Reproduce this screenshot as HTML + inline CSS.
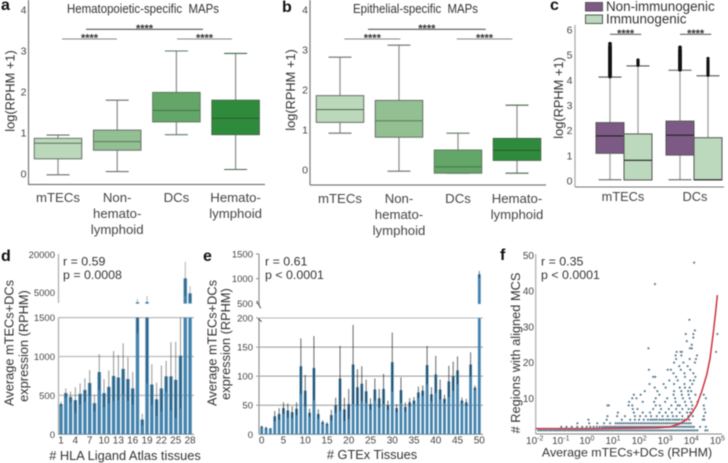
<!DOCTYPE html>
<html lang="en">
<head>
<meta charset="utf-8">
<title>MAP expression figure</title>
<style>
html,body{margin:0;padding:0;background:#fff;}
svg{display:block;filter:blur(0.4px);}
text{font-family:"Liberation Sans",sans-serif;fill:#333;}
.letter{font-size:16px;font-weight:bold;fill:#111;}
.title{font-size:12.8px;}
.stat{font-size:12.4px;}
.star{font-size:11px;font-weight:bold;text-anchor:middle;}
</style>
</head>
<body>
<svg id="fig" xmlns="http://www.w3.org/2000/svg" width="728" height="463" viewBox="0 0 728 463">
  <text class="letter" x="1" y="10">a</text>
  <text class="letter" x="282" y="12">b</text>
  <text class="letter" x="550" y="10">c</text>
  <text class="letter" x="1" y="261">d</text>
  <text class="letter" x="203" y="261">e</text>
  <text class="letter" x="500" y="260">f</text>

  <text x="67" y="13" font-size="12.5" textLength="152" lengthAdjust="spacingAndGlyphs" style="white-space:pre">Hematopoietic-specific  MAPs</text>
  <text x="353" y="13" font-size="12.5" textLength="125" lengthAdjust="spacingAndGlyphs" style="white-space:pre">Epithelial-specific  MAPs</text>

  <text class="title" transform="translate(14.5,91) rotate(-90)" text-anchor="middle">log(RPHM +1)</text>
  <text class="title" transform="translate(295,90) rotate(-90)" text-anchor="middle">log(RPHM +1)</text>
  <text class="title" transform="translate(563,98) rotate(-90)" text-anchor="middle">log(RPHM +1)</text>

  <text class="title" transform="translate(13.5,343) rotate(-90)" text-anchor="middle">Average mTECs+DCs</text>
  <text class="title" transform="translate(28,346) rotate(-90)" text-anchor="middle">expression (RPHM)</text>
  <text class="title" transform="translate(216.5,343) rotate(-90)" text-anchor="middle">Average mTECs+DCs</text>
  <text class="title" transform="translate(230,344) rotate(-90)" text-anchor="middle">expression (RPHM)</text>
  <text class="title" transform="translate(520,353) rotate(-90)" text-anchor="middle"># Regions with aligned MCS</text>

  <text class="title" x="125" y="460" text-anchor="middle"># HLA Ligand Atlas tissues</text>
  <text class="title" x="372" y="459" text-anchor="middle"># GTEx Tissues</text>
  <text class="title" x="627" y="456.5" text-anchor="middle" font-size="12.4" style="font-size:12.4px">Average mTECs+DCs (RPHM)</text>

  <text class="stat" x="63" y="265.5">r = 0.59</text>
  <text class="stat" x="63" y="279">p = 0.0008</text>
  <text class="stat" x="265" y="265.5">r = 0.61</text>
  <text class="stat" x="265" y="279">p &lt; 0.0001</text>
  <text class="stat" x="541" y="265.5">r = 0.35</text>
  <text class="stat" x="541" y="279">p &lt; 0.0001</text>

  <rect x="585.5" y="2.5" width="17" height="8.5" fill="#7c5a85" stroke="#555"/>
  <rect x="585.5" y="15" width="17" height="8.5" fill="#bcd8bd" stroke="#555"/>
  <text x="606" y="11" font-size="13.4">Non-immunogenic</text>
  <text x="606" y="23.5" font-size="13.4">Immunogenic</text>
</svg>
<script>
// ---------- panel a ----------
const aCategories = [['mTECs'], ['Non-', 'hemato-', 'lymphoid'], ['DCs'], ['Hemato-', 'lymphoid']];
const aLow = [-0.02, 0.06, 0.96, 0.11];
const aQ1 = [0.37, 0.58, 1.27, 0.96];
const aMedian = [0.75, 0.79, 1.55, 1.36];
const aQ3 = [0.87, 1.07, 1.99, 1.80];
const aHigh = [0.95, 1.80, 3.00, 2.94];
const aTicks = [0, 1, 2, 3, 4];

// ---------- panel b ----------
const bCategories = [['mTECs'], ['Non-', 'hemato-', 'lymphoid'], ['DCs'], ['Hemato-', 'lymphoid']];
const bLow = [0.92, -0.03, -0.08, -0.08];
const bQ1 = [1.19, 0.82, -0.08, 0.24];
const bMedian = [1.51, 1.23, 0.08, 0.49];
const bQ3 = [1.86, 1.74, 0.50, 0.79];
const bHigh = [2.82, 3.12, 0.92, 1.62];
const bTicks = [0, 1, 2, 3, 4];

// ---------- panel c ----------
const cCategories = ['mTECs', 'DCs'];
const cLow = [0.05, 0.05, 0.05, 0.05];
const cQ1 = [1.10, 0.04, 1.03, 0.04];
const cMedian = [1.79, 0.82, 1.82, 0.05];
const cQ3 = [2.32, 1.87, 2.38, 1.72];
const cHigh = [4.13, 4.57, 4.40, 4.18];
const cOutliers = [
  [4.15, 4.2, 4.25, 4.3, 4.35, 4.4, 4.45, 4.5, 4.55, 4.6, 4.65, 4.7, 4.75, 4.8, 4.85, 4.9, 4.95, 5.0, 5.05, 5.1, 5.15, 5.2, 5.25, 5.3, 5.35, 5.45],
  [4.6, 4.65, 4.7, 4.74, 4.78, 4.81],
  [4.42, 4.47, 4.52, 4.57, 4.62, 4.67, 4.72, 4.77, 4.82, 4.87, 4.92, 4.97, 5.02, 5.07, 5.12, 5.17, 5.22, 5.31],
  [4.2, 4.25, 4.3, 4.36, 4.42, 4.48, 4.54, 4.6, 4.66, 4.72, 4.78, 4.87]
];
const cTicks = [0, 1, 2, 3, 4, 5, 6];

// ---------- panel d ----------
const dValues = [390, 530, 480, 440, 520, 570, 660, 400, 800, 530, 610, 750, 730, 840, 710, 590, 1920, 190, 2000, 640, 450, 590, 745, 745, 700, 1010, 10620, 4800];
const dErrHigh = [420, 590, 550, 605, 655, 720, 825, 505, 1030, 710, 820, 1070, 1020, 1170, 990, 800, 2980, 265, 3940, 900, 665, 885, 945, 1185, 1190, 1500, 17100, 7560];
const dErrLow = [360, 470, 410, 275, 385, 420, 495, 295, 570, 350, 400, 430, 440, 510, 430, 380, 1300, 115, 655, 380, 235, 295, 545, 305, 210, 330, 4000, 2000];
const dLowerTicks = [0, 500, 1000, 1500];
const dUpperTicks = [5000, 20000];
const dXTicks = [1, 4, 7, 10, 13, 16, 19, 22, 25, 28];

// ---------- panel e ----------
const eValues = [13, 11, 10, 31, 35, 45, 41, 38, 44, 117, 75, 37, 114, 35, 21, 18, 33, 50, 96, 43, 52, 120, 81, 87, 74, 52, 77, 62, 78, 50, 124, 45, 76, 47, 55, 58, 72, 75, 119, 69, 103, 77, 61, 91, 100, 110, 58, 55, 120, 80, 1088];
const eErrHigh = [15, 13, 11, 40, 45, 55, 53, 48, 55, 165, 102, 44, 169, 43, 24, 21, 42, 63, 152, 63, 78, 188, 112, 117, 94, 62, 96, 78, 104, 58, 175, 52, 98, 55, 62, 64, 82, 84, 152, 81, 135, 94, 68, 118, 125, 134, 63, 61, 141, 84, 1155];
const eErrLow = [11, 9, 9, 22, 25, 35, 29, 28, 33, 69, 48, 30, 59, 27, 18, 15, 24, 37, 40, 23, 26, 52, 50, 57, 54, 42, 58, 46, 52, 42, 73, 38, 54, 39, 48, 52, 62, 66, 86, 57, 71, 60, 54, 64, 75, 86, 53, 49, 99, 76, 1020];
const eLowerTicks = [0, 50, 100, 150, 200];
const eUpperTicks = [500, 1000, 1500];
const eXTicks = [0, 5, 10, 15, 20, 25, 30, 35, 40, 45, 50];

// ---------- panel f ----------
const fXTickExponents = [-2, -1, 0, 1, 2, 3, 4, 5];
const fYTicks = [10, 20, 30, 40, 50];
const fRegionCounts = [1, 2, 3, 4, 5, 6, 7, 8, 9, 10, 11, 12, 13, 14, 15, 16, 17, 18, 19, 20, 21, 22, 23, 24, 25, 26, 27, 28, 29, 32, 42, 48];
const fLogExpressionByCount = [
  [-1.9, -1.83, -1.77, -1.69, -1.62, -1.55, -1.47, -1.41, -1.33, -1.26, -1.19, -1.12, -1.05, -0.97, -0.9, -0.84, -0.76, -0.69, -0.62, -0.55, -0.48, -0.41, -0.34, -0.27, -0.2, -0.13, -0.06, 0.01, 0.08, 0.15, 0.22, 0.29, 0.36, 0.43, 0.5, 0.57, 0.64, 0.71, 0.78, 0.85, 0.92, 0.99, 1.06, 1.13, 1.2, 1.27, 1.34, 1.41, 1.48, 1.55, 1.62, 1.69, 1.76, 1.83, 1.9, 1.97, 2.04, 2.11, 2.18, 2.25, 2.32, 2.39, 2.46, 2.53, 2.6, 2.67, 2.74, 2.81, 2.88, 2.95, 3.02, 3.09, 3.16, 3.23, 3.3, 3.37, 3.44, 3.51, 3.58, 3.65, 3.72, 3.79, 3.86, 3.93, 4.0, 4.07, 4.14, 4.2, 4.5, 4.58],
  [-1.02, -0.82, -0.62, -0.41, -0.22, -0.05, 0.09, 0.22, 0.34, 0.45, 0.55, 0.63, 0.7, 0.77, 0.84, 0.91, 0.98, 1.05, 1.12, 1.19, 1.26, 1.33, 1.4, 1.47, 1.54, 1.61, 1.68, 1.75, 1.82, 1.89, 1.96, 2.03, 2.1, 2.17, 2.24, 2.31, 2.38, 2.45, 2.52, 2.59, 2.66, 2.73, 2.8, 2.87, 2.94, 3.01, 3.08, 3.15, 3.22, 3.29, 3.36, 3.43, 3.5, 3.57, 3.64, 3.71, 3.78, 3.85, 3.92, 3.99, 4.06, 4.3, 4.52],
  [-0.4, 0.05, 0.36, 0.62, 0.85, 1.06, 1.14, 1.22, 1.3, 1.38, 1.46, 1.54, 1.62, 1.7, 1.78, 1.86, 1.94, 2.02, 2.1, 2.18, 2.26, 2.34, 2.42, 2.5, 2.58, 2.66, 2.74, 2.82, 2.9, 2.98, 3.06, 3.14, 3.22, 3.3, 3.38, 3.46, 3.54, 3.62, 3.7, 3.78, 3.86, 3.94],
  [0.02, 0.72, 1.3, 1.62, 1.8, 1.96, 2.14, 2.3, 2.4, 2.48, 2.56, 2.64, 2.74, 2.82, 2.9, 3.0, 3.08, 3.16, 3.26, 3.34, 3.42, 3.5, 3.6, 3.7, 3.78, 3.88, 4.4, 4.46],
  [0.75, 1.12, 1.42, 1.8, 2.0, 2.22, 2.42, 2.64, 2.86, 3.06, 3.26, 3.4, 3.62, 3.85, 4.02, 4.44],
  [1.15, 1.76, 2.1, 2.38, 2.74, 2.98, 3.22, 3.52, 3.8, 3.92, 4.5],
  [1.72, 1.9, 2.5, 2.8, 3.1, 3.38, 3.62, 3.86, 3.98, 4.46],
  [0.75, 0.8, 1.56, 1.7, 2.6, 2.76, 3.2, 3.44, 3.52, 3.76, 4.0, 4.44],
  [1.58, 2.1, 2.54, 2.96, 3.36, 3.72, 3.96, 4.2],
  [1.7, 1.86, 2.6, 3.04, 3.34, 3.64, 3.9, 4.52],
  [1.76, 2.02, 2.74, 3.28, 3.6, 3.86, 4.12, 4.44],
  [2.18, 2.66, 3.3, 3.58, 3.84, 3.96],
  [2.56, 2.98, 3.52, 3.72, 3.9],
  [2.36, 2.9, 3.3, 3.7, 4.0],
  [3.12, 3.44, 3.92, 4.06],
  [2.5, 2.58, 3.38, 3.72, 4.12],
  [3.28, 3.7, 4.04],
  [2.34, 3.06, 3.18, 3.56, 3.92],
  [3.5, 3.82],
  [3.3, 3.66, 4.1],
  [3.38, 3.9, 4.14],
  [3.36, 3.58, 4.18],
  [3.4, 3.55, 3.6, 4.91],
  [2.32, 3.91, 3.98],
  [3.98],
  [3.79],
  [4.04],
  [3.75, 4.04, 4.96],
  [4.1],
  [3.89],
  [2.57],
  [4.07]
];
const fTrendLogX = [-2, 0.08, 2.64, 3.15, 3.53, 3.79, 3.98, 4.17, 4.36, 4.55, 4.68, 4.81, 4.91, 4.96];
const fTrendY = [1.5, 1.5, 1.7, 2, 2.9, 4.1, 5.8, 8.1, 11.9, 16.5, 21.2, 28.7, 35.2, 38.9];

// ---------- helpers ----------
const NS = 'http://www.w3.org/2000/svg';
const fig = document.getElementById('fig');
function mk(tag, attrs, txt) {
  const el = document.createElementNS(NS, tag);
  for (const k in attrs) el.setAttribute(k, attrs[k]);
  if (txt !== undefined) el.textContent = txt;
  fig.appendChild(el);
  return el;
}
function line(name, x1, y1, x2, y2, stroke, w) {
  const el = mk('line', {x1: x1, y1: y1, x2: x2, y2: y2, stroke: stroke, 'stroke-width': w});
  
  
  return el;
}
function label(name, x, y, txt, size, anchor) {
  const el = mk('text', {x: x, y: y, 'font-size': size, 'text-anchor': anchor}, txt);
  
  
  el.style.fill = '#444';
  return el;
}
function bar(name, x, y, w, h, fill) {
  const el = mk('rect', {x: x, y: y, width: w, height: h, fill: fill});
  
  
  return el;
}
function box(name, cx, w, yS, low, q1, med, q3, high, fill, edge, medColor, whisk) {
  line(name + '-whisker', cx, yS(high), cx, yS(low), whisk, 1.2);
  line(name + '-cap-high', cx - 11.5, yS(high), cx + 11.5, yS(high), edge, 1.1);
  line(name + '-cap-low', cx - 11.5, yS(low), cx + 11.5, yS(low), edge, 1.1);
  const r = mk('rect', {x: cx - w / 2, y: yS(q3), width: w, height: yS(q1) - yS(q3), fill: fill, stroke: edge, 'stroke-width': 1});
  
  
  line(name + '-median', cx - w / 2, yS(med), cx + w / 2, yS(med), medColor, 1.1);
}
function stars(name, x1, x2, y, color) {
  line(name + '-bracket', x1, y, x2, y, color, 1.1);
  const t = mk('text', {x: (x1 + x2) / 2, y: y + 2.5, class: 'star'}, '****');
  
  
}
const greens = ['#bcd8bb', '#92c092', '#64a667', '#2f8b3c'];
const boxEdges = ['#667066', '#667066', '#5f7a62', '#44664a'];
const boxMedians = ['#56705a', '#5f7f62', '#467a4c', '#2a5c32'];

// ---------- draw panel a ----------
const yA = v => 174 - 41 * v;
const xA = i => 58 + 59.2 * i;
line('panel-a-y-axis', 28.5, 0, 28.5, 184.5, '#777', 1.2);
line('panel-a-x-axis', 28, 184.5, 265, 184.5, '#777', 1.2);
aTicks.forEach(t => { label('panel-a-y-tick', 26.5, yA(t) + 3.5, String(t), 10.5, 'end'); });
aCategories.forEach((c, i) => {
  box('panel-a-' + c[0].toLowerCase().replace('-', ''), xA(i), 47.5, yA, aLow[i], aQ1[i], aMedian[i], aQ3[i], aHigh[i], greens[i], boxEdges[i], boxMedians[i], '#8a8a8a');
  c.forEach((s, j) => { label('panel-a-category-label', xA(i), 202 + j * 16, s, 13.2, 'middle'); });
});
stars('panel-a-sig-1', 62, 117, 39, '#888');
stars('panel-a-sig-2', 86, 203, 29.3, '#555');
stars('panel-a-sig-3', 177, 232, 39, '#888');

// ---------- draw panel b ----------
const yB = v => 170 - 40 * v;
const xB = i => 340 + 59 * i;
line('panel-b-y-axis', 310, 0, 310, 185, '#777', 1.2);
line('panel-b-x-axis', 310, 185, 546, 185, '#777', 1.2);
bTicks.forEach(t => { label('panel-b-y-tick', 308, yB(t) + 3.5, String(t), 10.5, 'end'); });
bCategories.forEach((c, i) => {
  box('panel-b-' + c[0].toLowerCase().replace('-', ''), xB(i), 47.5, yB, bLow[i], bQ1[i], bMedian[i], bQ3[i], bHigh[i], greens[i], boxEdges[i], boxMedians[i], '#8a8a8a');
  c.forEach((s, j) => { label('panel-b-category-label', xB(i), 203 + j * 16, s, 13.2, 'middle'); });
});
stars('panel-b-sig-1', 344.3, 400.3, 39, '#888');
stars('panel-b-sig-2', 368, 485.7, 29.3, '#555');
stars('panel-b-sig-3', 456.7, 512.3, 39, '#888');

// ---------- draw panel c ----------
const yC = v => 181 - 25.17 * v;
const xC = i => [610, 638, 680, 708][i];
const cFill = ['#7c5a85', '#bcd8bd', '#7c5a85', '#bcd8bd'];
const cOutlierRadius = [1.9, 1.6, 1.9, 1.6];
line('panel-c-y-axis', 575, 25, 575, 187, '#aaa', 1.3);
line('panel-c-x-axis', 575, 187, 724, 187, '#777', 1.1);
cTicks.forEach(t => { label('panel-c-y-tick', 572.5, yC(t) + 3.5, String(t), 10.5, 'end'); });
cLow.forEach((_, i) => {
  box('panel-c-group-' + i, xC(i), 28, yC, cLow[i], cQ1[i], cMedian[i], cQ3[i], cHigh[i], cFill[i], '#555', '#222', '#999');
  cOutliers[i].forEach(v => {
    const d = mk('circle', {cx: xC(i), cy: yC(v), r: cOutlierRadius[i], fill: '#111'});
    
    
  });
});
cCategories.forEach((c, i) => { label('panel-c-category-label', [623, 695][i], 201, c, 12.8, 'middle'); });
stars('panel-c-sig-1', 610, 641.3, 34.3, '#666');
stars('panel-c-sig-2', 680, 711.3, 34.3, '#666');

// ---------- draw panel d ----------
const yDLow = v => 434.3 - 0.0778 * v;
const yDUp = v => v < 5000 ? 303.6 - (v - 1500) * 10.9 / 3500 : 292.7 - (v - 5000) * 38.4 / 15000;
const xD = n => 61 + 4.78 * (n - 1);
const barBlue = '#4383ad';
line('panel-d-upper-y-axis', 58.5, 254, 58.5, 303, '#aaa', 1.2);
line('panel-d-lower-y-axis', 58.5, 317.7, 58.5, 434.3, '#aaa', 1.2);
line('panel-d-x-axis', 58, 434.3, 194, 434.3, '#888', 1);
dLowerTicks.forEach(t => {
  label('panel-d-y-tick', 55, yDLow(t) + 3.5, String(t), 9.5, 'end');
  if (t > 0) line('panel-d-gridline', 58, yDLow(t), 194, yDLow(t), '#b8b8b8', 1.2);
});
dUpperTicks.forEach(t => { label('panel-d-y-tick', 55, yDUp(t) + 3.5, String(t), 9.5, 'end'); });
dValues.forEach((v, i) => {
  const x = xD(i + 1);
  bar('panel-d-bar', x - 1.7, yDLow(Math.min(v, 1500)), 3.4, yDLow(0) - yDLow(Math.min(v, 1500)), barBlue);
  if (v > 1500) bar('panel-d-bar-upper', x - 1.7, yDUp(v), 3.4, 303.6 - yDUp(v), barBlue);
  const lo = dErrLow[i], hi = dErrHigh[i];
  if (lo < 1500) line('panel-d-error-bar', x, yDLow(lo), x, yDLow(Math.min(hi, 1500)), 'rgba(0,0,0,0.42)', 1);
  if (hi > 1500) line('panel-d-error-bar-upper', x, yDUp(Math.max(lo, 1500)), x, yDUp(hi), 'rgba(0,0,0,0.3)', 1);
});
dXTicks.forEach(t => { label('panel-d-x-tick', xD(t), 443.5, String(t), 10, 'middle'); });

// ---------- draw panel e ----------
const yELow = v => 434.3 - 0.5815 * v;
const yEUp = v => 303.3 - (v - 500) * 0.0493;
const xE = n => 261.7 + 4.352 * n;
line('panel-e-upper-y-axis', 259, 254, 259, 305, '#888', 1.1);
line('panel-e-lower-y-axis', 259, 318, 259, 434.3, '#888', 1.1);
line('panel-e-x-axis', 259, 434.3, 483, 434.3, '#888', 1);
line('panel-e-axis-break', 256.7, 301, 260.7, 308.3, '#333', 0.9);
line('panel-e-axis-break', 256.7, 317.3, 261.7, 321.7, '#333', 0.9);
eLowerTicks.forEach(t => {
  label('panel-e-y-tick', 253, yELow(t) + 3.5, String(t), 9.5, 'end');
  if (t > 0) line('panel-e-gridline', 256, yELow(t), 483, yELow(t), t === 200 ? '#b5b5b5' : '#999', 1);
});
eUpperTicks.forEach(t => {
  label('panel-e-y-tick', 253, yEUp(t) + 3.5, String(t), 9.5, 'end');
  line('panel-e-tick', 256, yEUp(t), 259, yEUp(t), '#888', 1);
});
eValues.forEach((v, i) => {
  const x = xE(i);
  bar('panel-e-bar', x - 1.4, yELow(Math.min(v, 200)), 2.8, yELow(0) - yELow(Math.min(v, 200)), barBlue);
  if (v > 200) bar('panel-e-bar-upper', x - 1.4, yEUp(v), 2.8, 304 - yEUp(v), barBlue);
  const lo = eErrLow[i], hi = eErrHigh[i];
  if (hi <= 200) line('panel-e-error-bar', x, yELow(lo), x, yELow(hi), 'rgba(0,0,0,0.6)', 1);
  else line('panel-e-error-bar-upper', x, yEUp(lo), x, yEUp(hi), 'rgba(0,0,0,0.55)', 1);
});
eXTicks.forEach(t => { label('panel-e-x-tick', xE(t), 443.5, String(t), 10, 'middle'); });

// ---------- draw panel f ----------
const yF = v => 434 - 3.57 * v;
const xF = e => 535.7 + 26.1 * (e + 2);
line('panel-f-y-axis', 535.7, 254, 535.7, 434, '#aaa', 1.2);
line('panel-f-x-axis', 535.7, 434, 722, 434, '#888', 1);
fYTicks.forEach(t => { label('panel-f-y-tick', 534, yF(t) + 3.5, String(t), 10, 'end'); });
fXTickExponents.forEach(e => {
  const t = label('panel-f-x-tick', xF(e) - 1, 444, '10', 10, 'middle');
  const s = document.createElementNS(NS, 'tspan');
  s.setAttribute('dy', '-3.5');
  s.setAttribute('font-size', '7');
  s.textContent = String(e);
  
  
  t.appendChild(s);
});
fLogExpressionByCount.forEach((row, k) => {
  row.forEach(e => {
    const p = mk('circle', {cx: xF(e), cy: yF(fRegionCounts[k]), r: 1.05, fill: '#45687c', stroke: '#b5c6d0', 'stroke-width': 0.4});
    
    
  });
});
const trend = mk('polyline', {
  points: fTrendLogX.map((e, i) => xF(e) + ',' + yF(fTrendY[i])).join(' '),
  fill: 'none', stroke: '#c9343f', 'stroke-width': 1.5
});


</script>
</body>
</html>
